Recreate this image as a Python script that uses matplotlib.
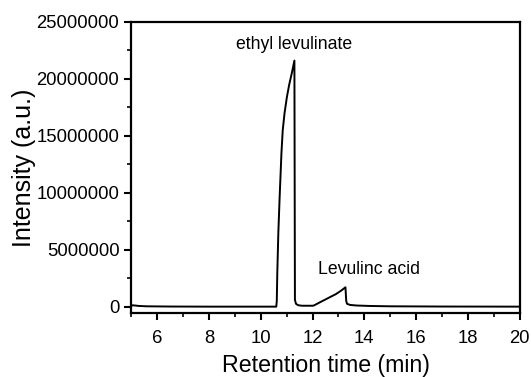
import matplotlib
matplotlib.use("Agg")
import matplotlib.pyplot as plt
from matplotlib.ticker import MultipleLocator, FuncFormatter

plt.rcParams['font.family'] = ['Liberation Sans', 'DejaVu Sans']

time_min = [5.0, 5.05, 5.15, 5.3, 5.6, 6.5, 8.0, 10.0, 10.6, 10.62, 10.64, 10.68,
            10.73, 10.8, 10.85, 10.92, 11.01, 11.1, 11.2, 11.3, 11.32, 11.36,
            11.45, 11.6, 12.0, 12.05, 12.3, 12.6, 12.9, 13.1, 13.27, 13.3, 13.33,
            13.45, 13.7, 14.2, 15.0, 17.0, 20.0]
intensity = [50000, 120000, 100000, 60000, 30000, 10000, 0, 0, 0, 500000, 3000000,
             6500000, 9600000, 13500000, 15500000, 17000000, 18400000, 19500000,
             20500000, 21600000, 600000, 250000, 120000, 80000, 80000, 100000,
             400000, 750000, 1100000, 1400000, 1700000, 500000, 250000, 150000,
             100000, 60000, 30000, 10000, 0]

labels = ["ethyl levulinate", "Levulinc acid"]
label_x = [11.3, 12.2]
label_y = [23000000, 3250000]

fig = plt.figure(figsize=(5.31, 3.77), dpi=100)
ax = fig.add_axes([0.247, 0.170, 0.732, 0.772])
ax.plot(time_min, intensity, color='black', lw=1.4)

ax.set_xlim(5, 20)
ax.set_ylim(-550000, 25000000)
ax.xaxis.set_major_locator(MultipleLocator(2))
ax.xaxis.set_minor_locator(MultipleLocator(1))
ax.yaxis.set_major_locator(MultipleLocator(5000000))
ax.yaxis.set_minor_locator(MultipleLocator(2500000))
ax.yaxis.set_major_formatter(FuncFormatter(lambda v, p: f"{int(round(v))}"))
ax.tick_params(which='major', direction='out', length=5, width=1.5, labelsize=13.3)
ax.tick_params(axis='x', which='major', pad=7)
ax.tick_params(which='minor', direction='out', length=3, width=1.2)
for s in ax.spines.values():
    s.set_linewidth(1.6)

ax.set_xlabel("Retention time (min)", fontsize=16.7, labelpad=5)
ax.set_ylabel("Intensity (a.u.)", fontsize=18, labelpad=0)

ax.text(label_x[0], label_y[0], labels[0], ha='center', va='center', fontsize=12.7)
ax.text(label_x[1], label_y[1], labels[1], ha='left', va='center', fontsize=12.7)

fig.savefig("out.png", dpi=100)
